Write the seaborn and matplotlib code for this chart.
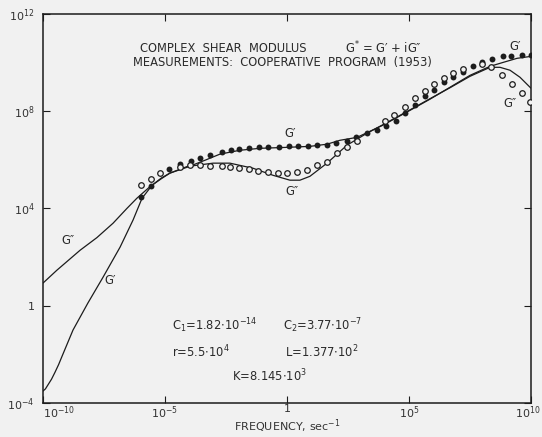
import numpy as np
import pandas as pd
import matplotlib
matplotlib.use("Agg")
import matplotlib.pyplot as plt
import matplotlib.transforms as mtransforms
import seaborn as sns

# ---- data (log10 values) ----
# measured G' (filled dots)
gp_pts_logf = [-5.98, -5.57, -4.84, -4.39, -3.93, -3.57, -3.16, -2.66, -2.30, -1.97,
               -1.56, -1.15, -0.78, -0.33, 0.08, 0.45, 0.86, 1.23, 1.64, 2.01,
               2.46, 2.83, 3.28, 3.69, 4.06, 4.47, 4.84, 5.25, 5.66, 6.02,
               6.43, 6.80, 7.21, 7.62, 7.99, 8.40, 8.85, 9.18, 9.63, 10.0]
gp_pts_logg = [4.46, 4.91, 5.61, 5.82, 5.94, 6.06, 6.18, 6.31, 6.39, 6.43,
               6.47, 6.51, 6.51, 6.51, 6.55, 6.55, 6.55, 6.60, 6.60, 6.68,
               6.76, 6.92, 7.09, 7.21, 7.38, 7.58, 7.91, 8.24, 8.63, 8.88,
               9.18, 9.39, 9.59, 9.84, 10.00, 10.13, 10.25, 10.25, 10.29, 10.29]

# measured G'' (open circles)
gpp_pts_logf = [-5.98, -5.57, -5.20, -4.39, -3.98, -3.57, -3.16, -2.66, -2.34, -1.97,
                -1.56, -1.19, -0.78, -0.37, 0.00, 0.41, 0.82, 1.23, 1.64, 2.05,
                2.46, 2.87, 4.02, 4.39, 4.84, 5.25, 5.66, 6.02, 6.43, 6.80,
                7.21, 7.99, 8.36, 8.81, 9.22, 9.63, 9.96]
gpp_pts_logg = [4.95, 5.20, 5.45, 5.69, 5.77, 5.77, 5.73, 5.73, 5.69, 5.65,
                5.61, 5.53, 5.49, 5.45, 5.45, 5.49, 5.57, 5.77, 5.90, 6.27,
                6.51, 6.76, 7.58, 7.83, 8.16, 8.55, 8.84, 9.13, 9.37, 9.55,
                9.72, 9.92, 9.80, 9.47, 9.10, 8.73, 8.36]

# theoretical G' curve
gp_curve_logf = [-10.0, -9.90, -9.80, -9.65, -9.51, -9.36, -9.22, -8.77, -8.16, -7.54,
                 -6.84, -6.31, -5.94, -5.53, -5.15, -4.80, -4.10, -3.36, -2.75, -1.93,
                 -1.11, 0.0, 0.94, 1.64, 2.17, 2.87, 3.93, 5.04, 5.86, 6.68,
                 7.50, 8.32, 8.85, 9.43, 10.0]
gp_curve_logg = [-3.51, -3.42, -3.26, -3.02, -2.74, -2.42, -2.08, -1.00, 0.11, 1.17,
                 2.41, 3.52, 4.42, 4.95, 5.25, 5.45, 5.69, 5.98, 6.23, 6.39,
                 6.47, 6.51, 6.55, 6.64, 6.80, 6.92, 7.42, 8.03, 8.49, 8.98,
                 9.47, 9.84, 10.00, 10.17, 10.25]

# theoretical G'' curve
gpp_curve_logf = [-10.0, -9.43, -8.48, -7.79, -7.13, -6.56, -6.15, -5.61, -5.15, -4.80,
                  -4.10, -3.03, -2.34, -1.39, -0.57, 0.12, 0.53, 0.94, 1.64, 2.46,
                  3.28, 3.93, 5.04, 5.86, 6.68, 7.50, 8.32, 8.73, 9.14, 9.55, 10.0]
gpp_curve_logg = [0.93, 1.46, 2.28, 2.80, 3.39, 4.00, 4.42, 4.90, 5.22, 5.45,
                  5.72, 5.86, 5.86, 5.65, 5.36, 5.16, 5.16, 5.32, 5.86, 6.60,
                  7.09, 7.44, 8.05, 8.51, 8.96, 9.43, 9.80, 9.80, 9.68, 9.39, 8.94]

x_ticks = [1e-10, 1e-5, 1, 1e5, 1e10]
x_tick_labels = [r'$\mathregular{10^{-10}}$', r'$\mathregular{10^{-5}}$', '1',
                 r'$\mathregular{10^{5}}$', r'$\mathregular{10^{10}}$']
y_ticks = [1e-4, 1, 1e4, 1e8, 1e12]
y_tick_labels = [r'$\mathregular{10^{-4}}$', '1', r'$\mathregular{10^{4}}$',
                 r'$\mathregular{10^{8}}$', r'$\mathregular{10^{12}}$']

# ---- style ----
BG = '#f1f1f1'
INK = '#1c1c1c'
sns.set_style('ticks')
plt.rcParams['font.family'] = ['DejaVu Sans']
plt.rcParams['mathtext.default'] = 'regular'

fig = plt.figure(figsize=(5.42, 4.37), dpi=100, facecolor=BG)
ax = fig.add_axes([43/542, 34/437, 488/542, 389.2/437], facecolor=BG)
ax.set_xscale('log')
ax.set_yscale('log')

def pw(a):
    return [10.0 ** v for v in a]

sns.lineplot(x=pw(gp_curve_logf), y=pw(gp_curve_logg), ax=ax, color=INK,
             lw=0.9, sort=False, estimator=None, zorder=2)
sns.lineplot(x=pw(gpp_curve_logf), y=pw(gpp_curve_logg), ax=ax, color=INK,
             lw=0.9, sort=False, estimator=None, zorder=2)
sns.scatterplot(x=pw(gp_pts_logf), y=pw(gp_pts_logg), ax=ax, color=INK,
                s=18, linewidth=0, zorder=3)
sns.scatterplot(x=pw(gpp_pts_logf), y=pw(gpp_pts_logg), ax=ax, color=BG,
                edgecolor=INK, s=16, linewidth=0.9, zorder=4)

ax.set_xlim(1e-10, 1e10)
ax.set_ylim(1e-4, 1e12)
ax.set_xticks(x_ticks)
ax.set_xticklabels(x_tick_labels)
ax.set_yticks(y_ticks)
ax.set_yticklabels(y_tick_labels)
ax.minorticks_off()
ax.tick_params(axis='both', which='major', direction='in', length=5, width=0.8,
               color=INK, labelcolor='#333333', labelsize=8,
               top=True, right=True)
ax.tick_params(axis='y', pad=6)
ax.tick_params(axis='x', pad=1)
xl = ax.get_xticklabels()
xl[0].set_horizontalalignment('left')
xl[-1].set_horizontalalignment('right')
xl[-1].set_transform(xl[-1].get_transform() +
                     mtransforms.ScaledTranslation(10/100, 0, fig.dpi_scale_trans))
for s in ax.spines.values():
    s.set_color(INK)
    s.set_linewidth(1.1)

ax.set_xlabel('FREQUENCY, sec$^{-1}$', fontsize=8, color='#333333')
ax.xaxis.set_label_coords(0.5, (403 - 417) / 389.2)
ax.set_ylabel('')

def px(x, y):
    return ((x - 43) / 488.0, (403 - y) / 389.2)

txt = dict(transform=ax.transAxes, fontsize=8.3, color='#2a2a2a', va='center')
ax.text(*px(140, 48), 'COMPLEX  SHEAR  MODULUS', ha='left', **txt)
ax.text(*px(345, 48), 'G$^{*}$ = G\u2032 + iG\u2033', ha='left', **txt)
ax.text(*px(133, 62), 'MEASUREMENTS:  COOPERATIVE  PROGRAM  (1953)', ha='left', **txt)

ax.text(*px(172, 326), 'C$_{1}$=1.82$\\cdot$10$^{-14}$', ha='left', **txt)
ax.text(*px(283, 326), 'C$_{2}$=3.77$\\cdot$10$^{-7}$', ha='left', **txt)
ax.text(*px(172, 352), 'r=5.5$\\cdot$10$^{4}$', ha='left', **txt)
ax.text(*px(285, 352), 'L=1.377$\\cdot$10$^{2}$', ha='left', **txt)
ax.text(*px(232, 376), 'K=8.145$\\cdot$10$^{3}$', ha='left', **txt)

ax.text(*px(290, 133), 'G\u2032', ha='center', **txt)
ax.text(*px(292, 191), 'G\u2033', ha='center', **txt)
ax.text(*px(515, 46), 'G\u2032', ha='center', **txt)
ax.text(*px(510, 103), 'G\u2033', ha='center', **txt)
ax.text(*px(68, 240), 'G\u2033', ha='center', **txt)
ax.text(*px(110, 281), 'G\u2032', ha='center', **txt)

fig.savefig('out.png', dpi=100, facecolor=BG)
